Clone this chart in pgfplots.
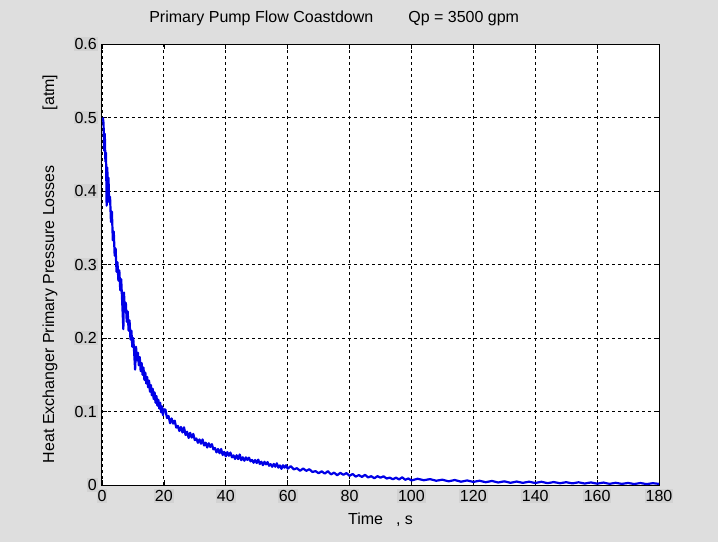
\documentclass[border=0pt]{standalone}
\usepackage{fontspec}
\setmainfont{Liberation Sans}
\usepackage{pgfplots}
\pgfplotsset{compat=1.18}
\definecolor{figbg}{RGB}{222,222,222}
\definecolor{lblbg}{RGB}{210,210,210}
\definecolor{curve}{RGB}{0,0,230}
\begin{document}
\fontsize{16}{19}\selectfont
\begin{tikzpicture}
\fill[figbg] (-102pt,-57pt) rectangle (616pt,485pt);
\begin{axis}[
  width=557pt, height=441pt, scale only axis,
  xmin=0, xmax=180, ymin=0, ymax=0.6,
  xtick={0,20,40,60,80,100,120,140,160,180},
  xticklabels={0,20,40,60,80,100,120,140,160,180},
  ytick={0,0.1,0.2,0.3,0.4,0.5,0.6},
  yticklabels={0,0.1,0.2,0.3,0.4,0.5,0.6},
  tick align=inside, major tick length=5pt,
  tick style={black, line width=0.7pt},
  xticklabel style={fill=lblbg, inner sep=1pt, yshift=-4pt},
  yticklabel style={fill=lblbg, inner sep=1pt, xshift=-4pt},
  grid=major,
  major grid style={black, dash pattern=on 3pt off 3pt, line width=0.8pt},
  axis line style={black, line width=1pt},
  axis background/.style={fill=white},
  title={Primary Pump Flow Coastdown\hspace{35pt}Qp = 3500 gpm},
  title style={at={(rel axis cs:0.075,1)}, anchor=west, yshift=20pt},
  ylabel={Heat Exchanger Primary Pressure Losses\hspace{55pt}[atm]},
  ylabel style={at={(rel axis cs:-0.0934,0.49)}, anchor=center},
  xlabel={Time\hspace{13pt}, s},
  xlabel style={at={(rel axis cs:0.5,0)}, yshift=-35pt, anchor=center},
]
\addplot[curve, line width=2.2pt, line join=round] coordinates {
(0.3,0.500) (0.5,0.492) (0.7,0.455) (0.9,0.478) (1.1,0.440) (1.3,0.452)
(1.5,0.380) (1.7,0.432) (1.9,0.405) (2.1,0.418) (2.3,0.385) (2.6,0.392)
(2.9,0.358) (3.2,0.372) (3.5,0.333) (3.8,0.345) (4.1,0.312) (4.4,0.322)
(4.7,0.290) (5.0,0.303) (5.3,0.278) (5.6,0.292) (5.9,0.265) (6.2,0.280)
(6.5,0.252) (6.9,0.212) (7.1,0.262) (7.4,0.236) (7.7,0.248) (8.0,0.222)
(8.3,0.236) (8.6,0.210) (8.9,0.224) (9.2,0.198) (9.5,0.210) (9.8,0.188)
(10.1,0.200) (10.4,0.180) (10.7,0.157) (11.0,0.188) (11.3,0.170) (11.6,0.180)
(11.9,0.163) (12.2,0.174) (12.5,0.155) (12.8,0.166) (13.1,0.150) (13.4,0.160)
(13.7,0.143) (14.0,0.153) (14.3,0.138) (14.6,0.147) (14.9,0.133) (15.2,0.142)
(15.5,0.127) (15.8,0.136) (16.1,0.122) (16.4,0.131) (16.7,0.117) (17.0,0.126)
(17.3,0.112) (17.6,0.121) (17.9,0.108) (18.2,0.116) (18.5,0.104) (18.8,0.112)
(19.1,0.099) (19.4,0.107) (19.7,0.095) (20.0,0.103)
(20.5,0.1025) (21,0.091) (21.5,0.094) (22,0.084) (22.5,0.0905) (23,0.0835)
(23.5,0.0875) (24,0.078) (24.5,0.0805) (25,0.0735) (25.5,0.079) (26,0.0715)
(26.5,0.0785) (27,0.068) (27.5,0.0725) (28,0.064) (28.5,0.071) (29,0.0645)
(29.5,0.0695) (30,0.061) (30.5,0.0633) (31,0.0574) (31.5,0.062) (32,0.0562)
(32.5,0.062) (33,0.0538) (33.5,0.0576) (34,0.051) (34.5,0.0568) (35,0.0518)
(35.5,0.0556) (36,0.0486) (36.5,0.0503) (37,0.0444) (37.5,0.049) (38,0.0432)
(38.5,0.049) (39,0.0408) (39.5,0.0451) (40,0.039) (40.5,0.0448) (41,0.0398)
(41.5,0.0441) (42,0.0376) (42.5,0.0403) (43,0.0354) (43.5,0.0405) (44,0.0352)
(44.5,0.0415) (45,0.0338) (45.5,0.0377) (46,0.033) (46.5,0.0376) (47,0.0341)
(47.5,0.0372) (48,0.0322) (48.5,0.0341) (49,0.0303) (49.5,0.034) (50,0.0299)
(50.5,0.0345) (51,0.0286) (51.5,0.0317) (52,0.027) (52.5,0.0316) (53,0.0281)
(53.5,0.0312) (54,0.0262) (54.5,0.0284) (55,0.0248) (55.5,0.0287) (56,0.0249)
(56.5,0.0295) (57,0.0236) (57.5,0.0267) (58,0.022) (58.5,0.0269) (59,0.0236)
(59.5,0.0269) (60,0.0222)
(61,0.0257) (62,0.0212) (63,0.0229) (64,0.0193) (65,0.0225) (66,0.0193)
(67,0.0215) (68,0.0177) (69,0.0189) (70,0.016) (71,0.0186) (72,0.0155)
(73,0.0188) (74,0.0145) (75,0.0168) (76,0.0133) (77,0.0165) (78,0.0139)
(79,0.0162) (80,0.0125) (81,0.015) (82,0.0114) (83,0.0135) (84,0.011)
(85,0.0138) (86,0.0103) (87,0.012) (88,0.0092) (89,0.012) (90,0.01)
(91,0.0118) (92,0.0088) (93,0.01) (94,0.0078) (95,0.01) (96,0.0076)
(97,0.0105) (98,0.0071) (99,0.0089) (100,0.0062)
(102,0.0085) (104,0.0065) (106,0.008) (108,0.0058) (110,0.0072) (112,0.005)
(114,0.0068) (116,0.0045) (118,0.0062) (120,0.0042) (122,0.0058) (124,0.0038)
(126,0.0055) (128,0.0034) (130,0.005) (132,0.003) (134,0.0047) (136,0.0029)
(138,0.0045) (140,0.0027) (142,0.0044) (144,0.0025) (146,0.004) (148,0.0024)
(150,0.0038) (152,0.0022) (154,0.0037) (156,0.002) (158,0.0035) (160,0.0018)
(162,0.0033) (164,0.0016) (166,0.003) (168,0.0015) (170,0.0028) (172,0.0013)
(174,0.0027) (176,0.0012) (178,0.0025) (180,0.0015)
};
\end{axis}
\pgfresetboundingbox
\path (-102pt,-57pt) rectangle (616pt,485pt);
\end{tikzpicture}
\end{document}
